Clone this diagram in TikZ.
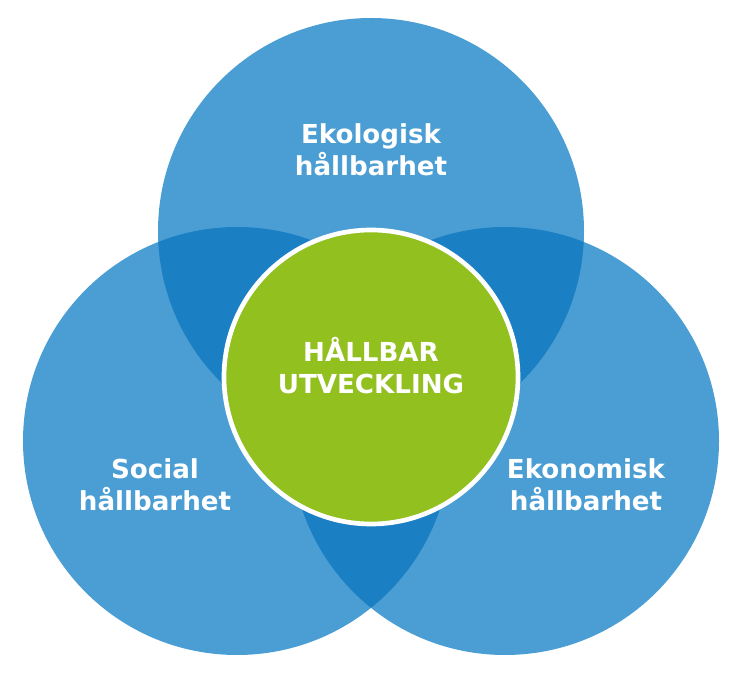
\documentclass[tikz,border=0pt]{standalone}
\usepackage{fontspec}
\setmainfont{DejaVu Sans}
\usepackage{tikz}
\definecolor{pillar blue}{RGB}{75, 158, 211}
\definecolor{overlap blue}{RGB}{27, 127, 196}
\definecolor{core green}{RGB}{146, 192, 31}
\tikzset{
	pillar label/.style = {text=white, align=center, font=\bfseries\fontsize{19.6}{24}\selectfont}
}

\begin{document}
\begin{tikzpicture}[x=0.75pt, y=0.75pt]
			\useasboundingbox (0, 0) rectangle (742, 678);
			\coordinate (eko) at (371, 447);
			\coordinate (soc) at (237, 237);
			\coordinate (ekn) at (505, 237);
			\coordinate (mid) at (371, 301);
			% three pillars
			\begin{scope}
				\fill[pillar blue] (eko) circle (213);
				\fill[pillar blue] (soc) circle (214);
				\fill[pillar blue] (ekn) circle (214);
			\end{scope}
			% overlaps
			\begin{scope}
				\clip (eko) circle (213);
				\fill[overlap blue] (soc) circle (214);
				\fill[overlap blue] (ekn) circle (214);
			\end{scope}
			\begin{scope}
				\clip (soc) circle (214);
				\fill[overlap blue] (ekn) circle (214);
			\end{scope}
			% core
			\fill[core green, draw=white, line width=3.5pt] (mid) circle (147);
			% labels
			\node[pillar label] (ekolabel) at (371, 528) {Ekologisk\\hållbarhet};
			\node[pillar label] (soclabel) at (155, 193) {Social\\hållbarhet};
			\node[pillar label] (eknlabel) at (586, 193) {Ekonomisk\\hållbarhet};
			\node[pillar label] (midlabel) at (371, 312) {HÅLLBAR\\UTVECKLING};
		\end{tikzpicture}
\end{document}
